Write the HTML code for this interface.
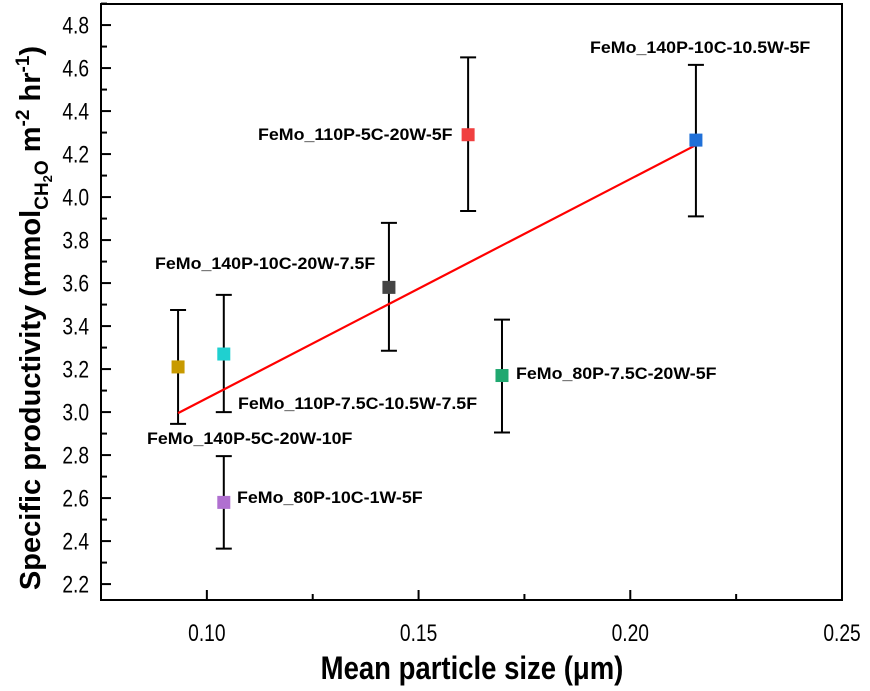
<!DOCTYPE html>
<html><head><meta charset="utf-8"><style>
html,body{margin:0;padding:0;background:#fff;}
svg{display:block;font-family:"Liberation Sans",Arial,sans-serif;}
</style></head><body>
<svg id="chart" width="870" height="691" viewBox="0 0 870 691">
  <g id="axes"></g>
  <g id="marks"></g>
  <g id="labels"></g>
  <text transform="translate(472,679) scale(0.86,1)" text-anchor="middle" font-size="32" font-weight="bold">Mean particle size (μm)</text>
  <text transform="translate(40,318) rotate(-90)" text-anchor="middle" font-size="29" font-weight="bold">Specific productivity (mmol<tspan font-size="19" dy="8">CH</tspan><tspan font-size="13" dy="4">2</tspan><tspan font-size="19" dy="-4">O</tspan><tspan dy="-8"> m</tspan><tspan font-size="19" dy="-11">-2</tspan><tspan dy="11"> hr</tspan><tspan font-size="19" dy="-11">-1</tspan><tspan dy="11">)</tspan></text>
</svg>
<script>
const xTicks = [0.10, 0.15, 0.20, 0.25];
const xMinor = [0.125, 0.175, 0.225];
const yTicks = [2.2, 2.4, 2.6, 2.8, 3.0, 3.2, 3.4, 3.6, 3.8, 4.0, 4.2, 4.4, 4.6, 4.8];
const names = ["FeMo_140P-5C-20W-10F","FeMo_110P-7.5C-10.5W-7.5F","FeMo_80P-10C-1W-5F","FeMo_140P-10C-20W-7.5F","FeMo_110P-5C-20W-5F","FeMo_80P-7.5C-20W-5F","FeMo_140P-10C-10.5W-5F"];
const sizes = [0.0932, 0.1040, 0.1040, 0.1430, 0.1617, 0.1697, 0.2155];
const values = [3.21, 3.27, 2.58, 3.58, 4.29, 3.17, 4.265];
const errUp = [0.265, 0.275, 0.215, 0.30, 0.36, 0.26, 0.35];
const errDown = [0.265, 0.27, 0.215, 0.295, 0.355, 0.265, 0.355];
const colors = ["#c89a00","#1fd0d0","#b070d0","#444444","#f04040","#20a870","#2070d8"];
const fitX = [0.0932, 0.2155];
const fitY = [2.995, 4.242];

const L=101,R=842,T=4,B=600;
const X0=0.075,X1=0.25,Y0=2.126,Y1=4.898;
const xs=v=>L+(v-X0)/(X1-X0)*(R-L);
const ys=v=>B-(v-Y0)/(Y1-Y0)*(B-T);
const NS="http://www.w3.org/2000/svg";
function mk(tag,attrs,parent){const e=document.createElementNS(NS,tag);for(const k in attrs)e.setAttribute(k,attrs[k]);parent.appendChild(e);return e;}
const axes=document.getElementById('axes'),marks=document.getElementById('marks'),labels=document.getElementById('labels');

const frame=mk('rect',{x:L,y:T,width:R-L,height:B-T,fill:'none',stroke:'#000','stroke-width':2},axes);



xTicks.forEach(v=>{
  const x=xs(v);
  const t=mk('line',{x1:x,x2:x,y1:B,y2:B-10,stroke:'#000','stroke-width':2},axes);
  
  
  const tx=mk('text',{transform:`translate(${x},641) scale(0.8,1)`,'text-anchor':'middle','font-size':24},axes);
  tx.textContent=v.toFixed(2);
  
  
});
xMinor.forEach(v=>{
  const x=xs(v);
  const t=mk('line',{x1:x,x2:x,y1:B,y2:B-6,stroke:'#000','stroke-width':2},axes);
  
  
});
yTicks.forEach(v=>{
  const y=ys(v);
  const t=mk('line',{x1:L,x2:L+10,y1:y,y2:y,stroke:'#000','stroke-width':2},axes);
  
  
  const m=mk('line',{x1:L,x2:L+6,y1:ys(v+0.1),y2:ys(v+0.1),stroke:'#000','stroke-width':2},axes);
  
  
  const tx=mk('text',{transform:`translate(${L-12},${y+8.5}) scale(0.8,1)`,'text-anchor':'end','font-size':24},axes);
  tx.textContent=v.toFixed(1);
  
  
});

sizes.forEach((s,i)=>{
  const x=xs(s),yt=ys(values[i]+errUp[i]),yb=ys(values[i]-errDown[i]);
  const g=mk('g',{},marks);
  
  
  mk('line',{x1:x,x2:x,y1:yt,y2:yb,stroke:'#000','stroke-width':2},g);
  mk('line',{x1:x-8,x2:x+8,y1:yt,y2:yt,stroke:'#000','stroke-width':2},g);
  mk('line',{x1:x-8,x2:x+8,y1:yb,y2:yb,stroke:'#000','stroke-width':2},g);
});
const fit=mk('line',{x1:xs(fitX[0]),y1:ys(fitY[0]),x2:xs(fitX[1]),y2:ys(fitY[1]),stroke:'#f00','stroke-width':2.2},marks);


sizes.forEach((s,i)=>{
  const r=mk('rect',{x:xs(s)-6.5,y:ys(values[i])-6.5,width:13,height:13,fill:colors[i]},marks);
  
  
});

const labelPos=[[147,444],[238,409],[237,503],[155,269],[258,140],[516,379],[590,53]];
names.forEach((n,i)=>{
  const t=mk('text',{transform:`translate(${labelPos[i][0]},${labelPos[i][1]}) scale(1.08,1)`,'font-size':16.5,'font-weight':'bold'},labels);
  t.textContent=n;
  
  
});
</script>
</body></html>
